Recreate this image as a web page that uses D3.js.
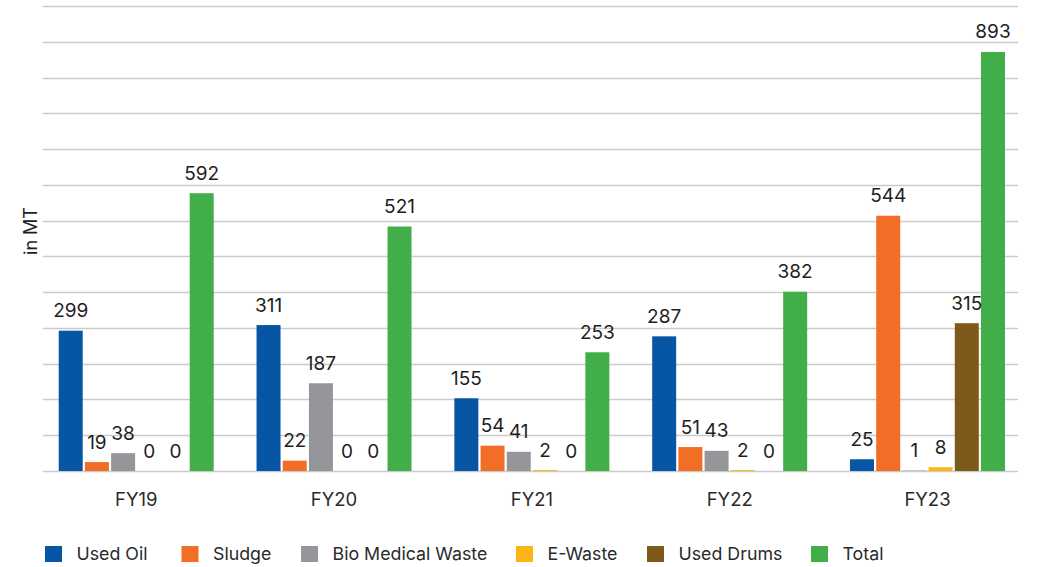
<!DOCTYPE html>
<html>
<head>
<meta charset="utf-8">
<script src="https://cdn.jsdelivr.net/npm/d3@7"></script>
<style>
  html, body { margin: 0; padding: 0; background: #ffffff; }
  svg { display: block; font-family: Inter, "Noto Sans", sans-serif; }
</style>
</head>
<body>
<svg id="chart" width="1038" height="567"></svg>
<script>
// Hazardous waste generated per year (metric tonnes)
const years = ["FY19", "FY20", "FY21", "FY22", "FY23"];
const seriesNames = ["Used Oil", "Sludge", "Bio Medical Waste", "E-Waste", "Used Drums", "Total"];
const usedOil = [299, 311, 155, 287, 25];
const sludge = [19, 22, 54, 51, 544];
const bioMedical = [38, 187, 41, 43, 1];
const eWaste = [0, 0, 2, 2, 8];
const usedDrums = [0, 0, 0, 0, 315];
const total = [592, 521, 253, 382, 893];
const seriesColors = ["#0756a5", "#f26e26", "#959699", "#fdb515", "#7e5a1a", "#41ae4a"];
const axisTitle = "in MT";

const seriesValues = [usedOil, sludge, bioMedical, eWaste, usedDrums, total];
const rows = years.map((yr, i) => ({
  year: yr,
  values: seriesNames.map((name, s) => ({ name, value: seriesValues[s][i], color: seriesColors[s] }))
}));

const svg = d3.select("#chart");

const baseY = 471, topY = 6;
const gridLeft = 43, gridRight = 1018;
const yMax = 991;
const y = d3.scaleLinear().domain([0, yMax]).range([baseY, topY]);

const x0 = d3.scaleBand().domain(years).range([37.3, 1026.4]).padding(0);
const groupSpan = 155.0;
const x1 = d3.scaleBand().domain(seriesNames)
  .range([(x0.bandwidth() - groupSpan) / 2, (x0.bandwidth() + groupSpan) / 2])
  .paddingInner(0.084).paddingOuter(0);

// horizontal gridlines
const gridVals = d3.range(14).map(i => i * yMax / 13);
svg.append("g").selectAll("line")
  .data(gridVals)
  .join("line")
  .attr("x1", gridLeft).attr("x2", gridRight)
  .attr("y1", d => Math.round(y(d)) + 0.5).attr("y2", d => Math.round(y(d)) + 0.5)
  .attr("stroke", "#cbcbcb").attr("stroke-width", 1.3);

// bars
const groups = svg.append("g").selectAll("g")
  .data(rows)
  .join("g")
  .attr("transform", d => `translate(${x0(d.year)},0)`);

groups.selectAll("rect")
  .data(d => d.values)
  .join("rect")
  .attr("x", d => x1(d.name))
  .attr("width", x1.bandwidth())
  .attr("y", d => y(d.value))
  .attr("height", d => baseY - y(d.value))
  .attr("fill", d => d.color);

// value labels
groups.selectAll("text")
  .data(d => d.values)
  .join("text")
  .attr("x", d => x1(d.name) + x1.bandwidth() / 2)
  .attr("y", d => y(d.value) - 13.5)
  .attr("text-anchor", "middle")
  .attr("font-size", 19)
  .attr("fill", "#1e1e1e")
  .text(d => d.value);

// category axis labels
const xAxis = d3.axisBottom(x0).tickSize(0).tickPadding(0);
const xg = svg.append("g").attr("transform", `translate(0,${baseY})`).call(xAxis);
xg.select(".domain").remove();
xg.selectAll("text")
  .attr("dy", 0).attr("y", 34.5)
  .attr("font-family", "Inter, 'Noto Sans', sans-serif")
  .attr("font-size", 18.5)
  .attr("fill", "#2a2a2a");

// y-axis title
svg.append("text")
  .attr("transform", "translate(36.5,231) rotate(-90)")
  .attr("text-anchor", "middle")
  .attr("font-size", 18)
  .attr("fill", "#1e1e1e")
  .text(axisTitle);

// legend: swatch followed by its series name, one row
const legendX = [45, 181.5, 301, 516, 647, 811];
const legend = svg.append("g").attr("transform", "translate(0,546)");
const item = legend.selectAll("g")
  .data(seriesNames)
  .join("g")
  .attr("transform", (d, i) => `translate(${legendX[i]},0)`);
item.append("rect").attr("width", 17).attr("height", 16).attr("fill", (d, i) => seriesColors[i]);
item.append("text")
  .attr("x", 31.5).attr("y", 14)
  .attr("font-size", 17.8)
  .attr("fill", "#2a2a2a")
  .text(d => d);
</script>
</body>
</html>
